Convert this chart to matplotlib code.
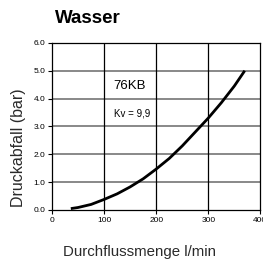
import numpy as np
import matplotlib
matplotlib.use("Agg")
import matplotlib.pyplot as plt

# values
flow = [36, 50, 75, 100, 125, 150, 175, 200, 225, 250, 275, 300, 325, 350, 370]      # l/min
drop = [0.05, 0.09, 0.2, 0.38, 0.58, 0.83, 1.12, 1.47, 1.85, 2.3, 2.8, 3.3, 3.85, 4.45, 5.0]  # bar
x_ticks = [0, 100, 200, 300, 400]
y_ticks = [0.0, 1.0, 2.0, 3.0, 4.0, 5.0, 6.0]

plt.rcParams['font.family'] = ['Liberation Sans', 'DejaVu Sans']

fig = plt.figure(figsize=(2.63, 2.62), dpi=100)
ax = fig.add_axes([0.198, 0.1985, 0.792, 0.638])

# grid: gray horizontal, black vertical
for y in y_ticks[1:-1]:
    ax.axhline(y, color='#7f7f7f', lw=1.3, zorder=1)
for x in x_ticks[1:-1]:
    ax.axvline(x, color='black', lw=0.9, zorder=1)

ax.plot(flow, drop, color='black', lw=2.0, solid_capstyle='butt', zorder=3)

ax.set_xlim(0, 400)
ax.set_ylim(0, 6)
ax.set_xticks(x_ticks)
ax.set_yticks(y_ticks)
ax.set_yticklabels([f"{v:.1f}" for v in y_ticks])
ax.tick_params(labelsize=6, length=3, width=0.8, pad=2, colors='black')
for s in ax.spines.values():
    s.set_linewidth(0.9)

ax.text(0.37, 0.741, "76KB", transform=ax.transAxes, fontsize=9.5, ha='center', va='center')
ax.text(0.383, 0.575, "Kv = 9,9", transform=ax.transAxes, fontsize=7, ha='center', va='center')

ax.set_ylabel("Druckabfall (bar)", fontsize=11.5, color='#2a2a2a', va='center')
ax.yaxis.set_label_coords(-0.16, 0.37)
ax.set_xlabel("Durchflussmenge l/min", fontsize=10.8, color='#2a2a2a', va='center')
ax.xaxis.set_label_coords(0.42, -0.25)
fig.text(0.209, 0.931, "Wasser", fontsize=13.5, fontweight='bold', ha='left', va='center')

fig.savefig("out.png", dpi=100)
